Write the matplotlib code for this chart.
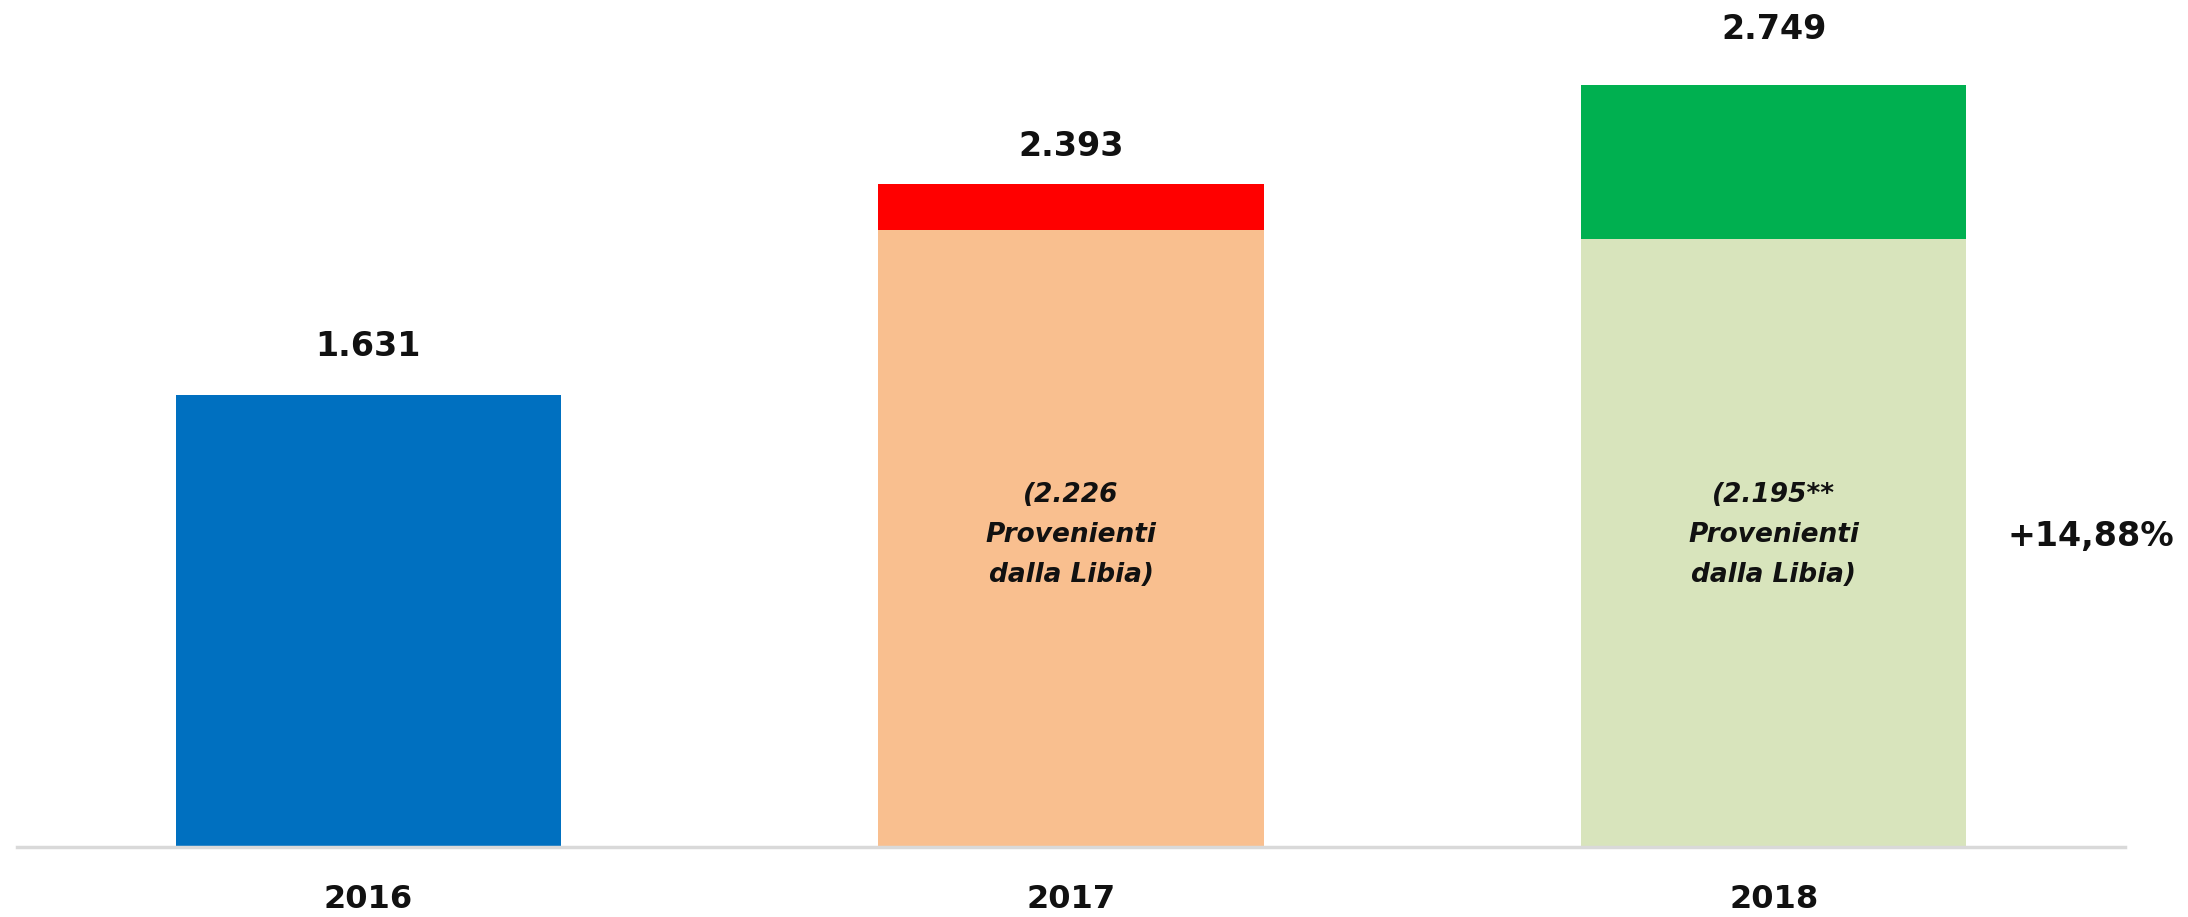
import numpy
import matplotlib
matplotlib.use("Agg")
import matplotlib.pyplot as plt
import matplotlib.transforms as mtransforms

plt.rcParams['font.family'] = ['DejaVu Sans']

years = ["2016", "2017", "2018"]
totals = [1631, 2393, 2749]
libia = [1631, 2226, 2195]
innerLabels = [None, "(2.226\nProvenienti\ndalla Libia)", "(2.195**\nProvenienti\ndalla Libia)"]
growthLabel = "+14,88%"

baseColors = ["#0070C0", "#F9BF8F", "#D8E4BC"]
topColors = ["#0070C0", "#FF0000", "#00B050"]
labelOffsets = [35, 27, 40]  # points above bar top

x = numpy.arange(len(years))
base = numpy.array(libia)
top = numpy.array(totals) - base

fig = plt.figure(figsize=(21.88, 9.17), dpi=100)
ax = fig.add_axes([17 / 2188, 70 / 917, 2108 / 2188, 847 / 917])

ax.bar(x, base, width=0.548, color=baseColors, zorder=2)
ax.bar(x, top, bottom=base, width=0.548, color=topColors, zorder=2)

for xi, tot, off in zip(x, totals, labelOffsets):
    ax.annotate(f"{tot:,}".replace(",", "."), xy=(xi, tot), xytext=(0, off),
                textcoords="offset points", ha="center", va="center",
                fontsize=24, fontweight="bold", color="#111111")

trans = mtransforms.blended_transform_factory(ax.transData, ax.transAxes)
for xi, txt in zip(x, innerLabels):
    if txt:
        ax.text(xi, 0.368, txt, transform=trans, ha="center", va="center",
                fontsize=19, fontweight="bold", fontstyle="italic",
                linespacing=1.7, color="#111111")

ax.text(0.984, 0.366, growthLabel, transform=ax.transAxes, ha="center",
        va="center", fontsize=24, fontweight="bold", color="#111111", clip_on=False)

ax.set_xlim(-0.5, 2.5)
ax.set_ylim(0, 847 / 0.2771)
ax.set_xticks(x)
ax.set_xticklabels(years, fontsize=23, fontweight="bold", color="#111111")
ax.tick_params(axis="x", length=0, pad=27)
ax.set_yticks([])
for side in ["top", "left", "right"]:
    ax.spines[side].set_visible(False)
ax.spines["bottom"].set_color("#D9D9D9")
ax.spines["bottom"].set_linewidth(2.5)

plt.savefig("out.png", format="png", dpi=100)
